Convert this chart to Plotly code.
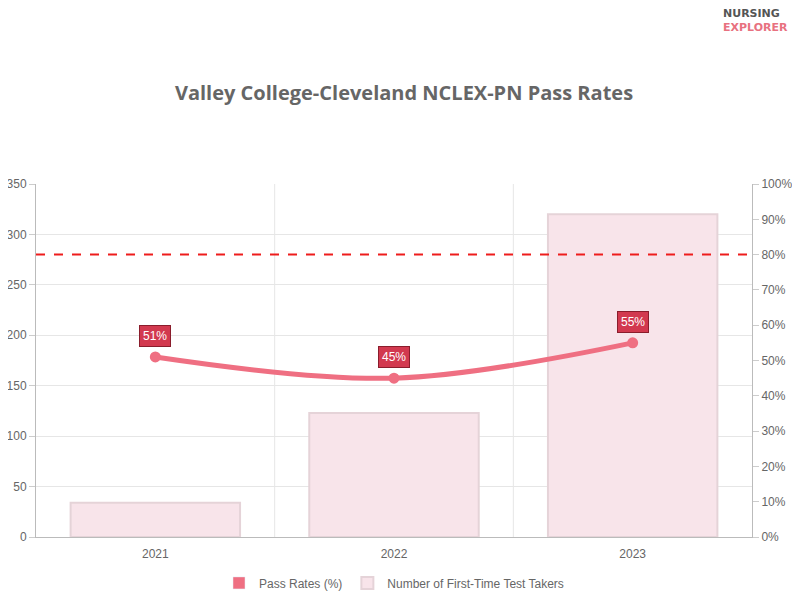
import plotly.graph_objects as go

years = ["2021", "2022", "2023"]
takers = [34, 123, 320]
pass_rates = [51, 45, 55]
benchmark = 80

xs = list(range(len(years)))
fig = go.Figure()
# legend-only swatch so the line series shows a box like the original
fig.add_trace(go.Bar(x=[None], y=[None], name="Pass Rates (%)", marker=dict(color="#ef6f82"),
                     legendrank=1))
fig.add_trace(go.Scatter(x=xs, y=pass_rates, yaxis="y2", name="Pass Rates (%)", showlegend=False,
                         mode="lines+markers", line=dict(color="#ef6f82", width=5, shape="spline"),
                         marker=dict(size=11, color="#ef6f82")))
fig.add_trace(go.Bar(x=xs, y=takers, name="Number of First-Time Test Takers", width=0.71,
                     legendrank=2,
                     marker=dict(color="rgba(248,228,234,1)", line=dict(color="#e5d3d8", width=2))))

for x, p in zip(xs, pass_rates):
    fig.add_annotation(x=x, y=p, yref="y2", text=f"{p}%", showarrow=False, yshift=21,
                       font=dict(color="white", size=12), bgcolor="#d2394f",
                       bordercolor="#8a1d2c", borderwidth=1, borderpad=3)

fig.add_shape(type="line", xref="paper", x0=0, x1=1, yref="y2", y0=benchmark, y1=benchmark,
              line=dict(color="#ee1c1c", width=2, dash="dash"))
for b in [0.5, 1.5]:
    fig.add_shape(type="line", x0=b, x1=b, yref="paper", y0=0, y1=1,
                  line=dict(color="#e6e6e6", width=1), layer="below")

fig.add_annotation(xref="paper", yref="paper", x=1.053, y=1.0, xanchor="right", yanchor="bottom",
                   text="<b><span style='color:#555'>NURSING</span><br><span style='color:#e8717f'>EXPLORER</span></b>",
                   showarrow=False, align="left", font=dict(size=11, family="DejaVu Sans"), yshift=148)

fig.update_layout(
    width=792, height=592, plot_bgcolor="white", paper_bgcolor="white",
    barmode="overlay",
    font=dict(family="Liberation Sans, Arial", color="#666", size=12),
    title=dict(text="<b>Valley College-Cleveland NCLEX-PN Pass Rates</b>", x=0.5, y=0.856,
               yanchor="middle", font=dict(family="Open Sans", size=20, color="#666")),
    margin=dict(l=28, r=48, t=176, b=63, autoexpand=False),
    xaxis=dict(range=[-0.5, 2.5], tickvals=xs, ticktext=years, showgrid=False, automargin=False,
               showline=True, linecolor="#bbb", ticks="outside", tickcolor="#fff", ticklen=6),
    yaxis=dict(range=[0, 350], dtick=50, gridcolor="#e6e6e6", showline=True, linecolor="#bbb",
               automargin=False, zeroline=False, ticks="outside", ticklen=6, tickcolor="#ccc"),
    yaxis2=dict(range=[0, 100], dtick=10, ticksuffix="%", overlaying="y", side="right", automargin=False,
                showgrid=False, showline=True, linecolor="#bbb", ticks="outside", ticklen=6, tickcolor="#ccc"),
    legend=dict(orientation="h", x=0.5, xanchor="center", y=-0.13, yanchor="middle",
                font=dict(size=12, color="#666")),
    showlegend=True,
)
fig.write_html("out.html")
